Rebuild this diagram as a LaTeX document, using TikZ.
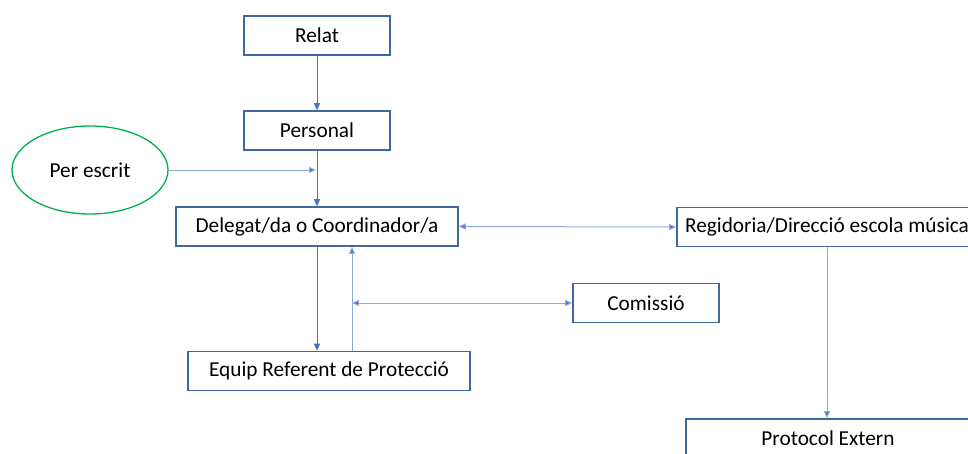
\documentclass[tikz,border=0pt]{standalone}
\usepackage{fontspec}
\setmainfont{Carlito}
\usetikzlibrary{arrows.meta,shapes.geometric}
\definecolor{boxblue}{HTML}{41679F}
\definecolor{linedark}{HTML}{4A70B8}
\definecolor{linelight}{HTML}{8EAADB}
\definecolor{ellgreen}{HTML}{00B050}
\begin{document}
\begin{tikzpicture}[x=1pt,y=-1pt,
  every node/.style={font=\fontsize{21.3}{25}\selectfont, text=black},
  box/.style={draw=boxblue, line width=1.6pt, rectangle, inner sep=0pt, minimum height=39pt},
  darkarrow/.style={draw=linedark, line width=1pt, -{Triangle[length=7pt,width=6pt]}},
  lightarrow/.style={draw=linelight, line width=1pt, -{Triangle[length=7pt,width=6pt,fill=linedark]}},
  lightboth/.style={draw=linelight, line width=1pt, {Triangle[length=7pt,width=6pt,fill=linedark]}-{Triangle[length=7pt,width=6pt,fill=linedark]}}]
\useasboundingbox (0,0) rectangle (968,453);
\node[box, minimum width=146pt] (relat) at (317,35.5) {Relat};
\node[box, minimum width=146pt] (personal) at (317,130.5) {Personal};
\node[ellipse, draw=ellgreen, line width=1.3pt, minimum width=156pt, minimum height=88pt, inner sep=0pt] (escrit) at (90,170) {Per escrit};
\node[box, minimum width=282pt] (deleg) at (317,226.5) {Delegat/da o Coordinador/a};
\node[box, minimum width=300pt] (regid) at (827,227) {Regidoria/Direcció escola música};
\node[box, minimum width=146pt] (comis) at (646,303) {Comissió};
\node[box, minimum width=282pt] (equip) at (329,371) {Equip Referent de Protecció};
\node[box, minimum width=284pt] (proto) at (828,438.5) {Protocol Extern};
\coordinate (escritend) at (316,170);
\coordinate (upx) at (352,303);
\draw[darkarrow] (relat) -- (personal);
\draw[darkarrow] (personal) -- (deleg);
\draw[lightarrow] (escrit.east) -- (escritend);
\draw[lightboth] (deleg.east) -- (regid.west);
\draw[darkarrow] (deleg.south) -- (deleg.south |- equip.north);
\draw[lightarrow] (upx |- equip.north) -- (upx |- deleg.south);
\draw[lightboth] (upx) -- (comis.west);
\draw[lightarrow] (regid.south) -- (regid.south |- proto.north);
\end{tikzpicture}
\end{document}
